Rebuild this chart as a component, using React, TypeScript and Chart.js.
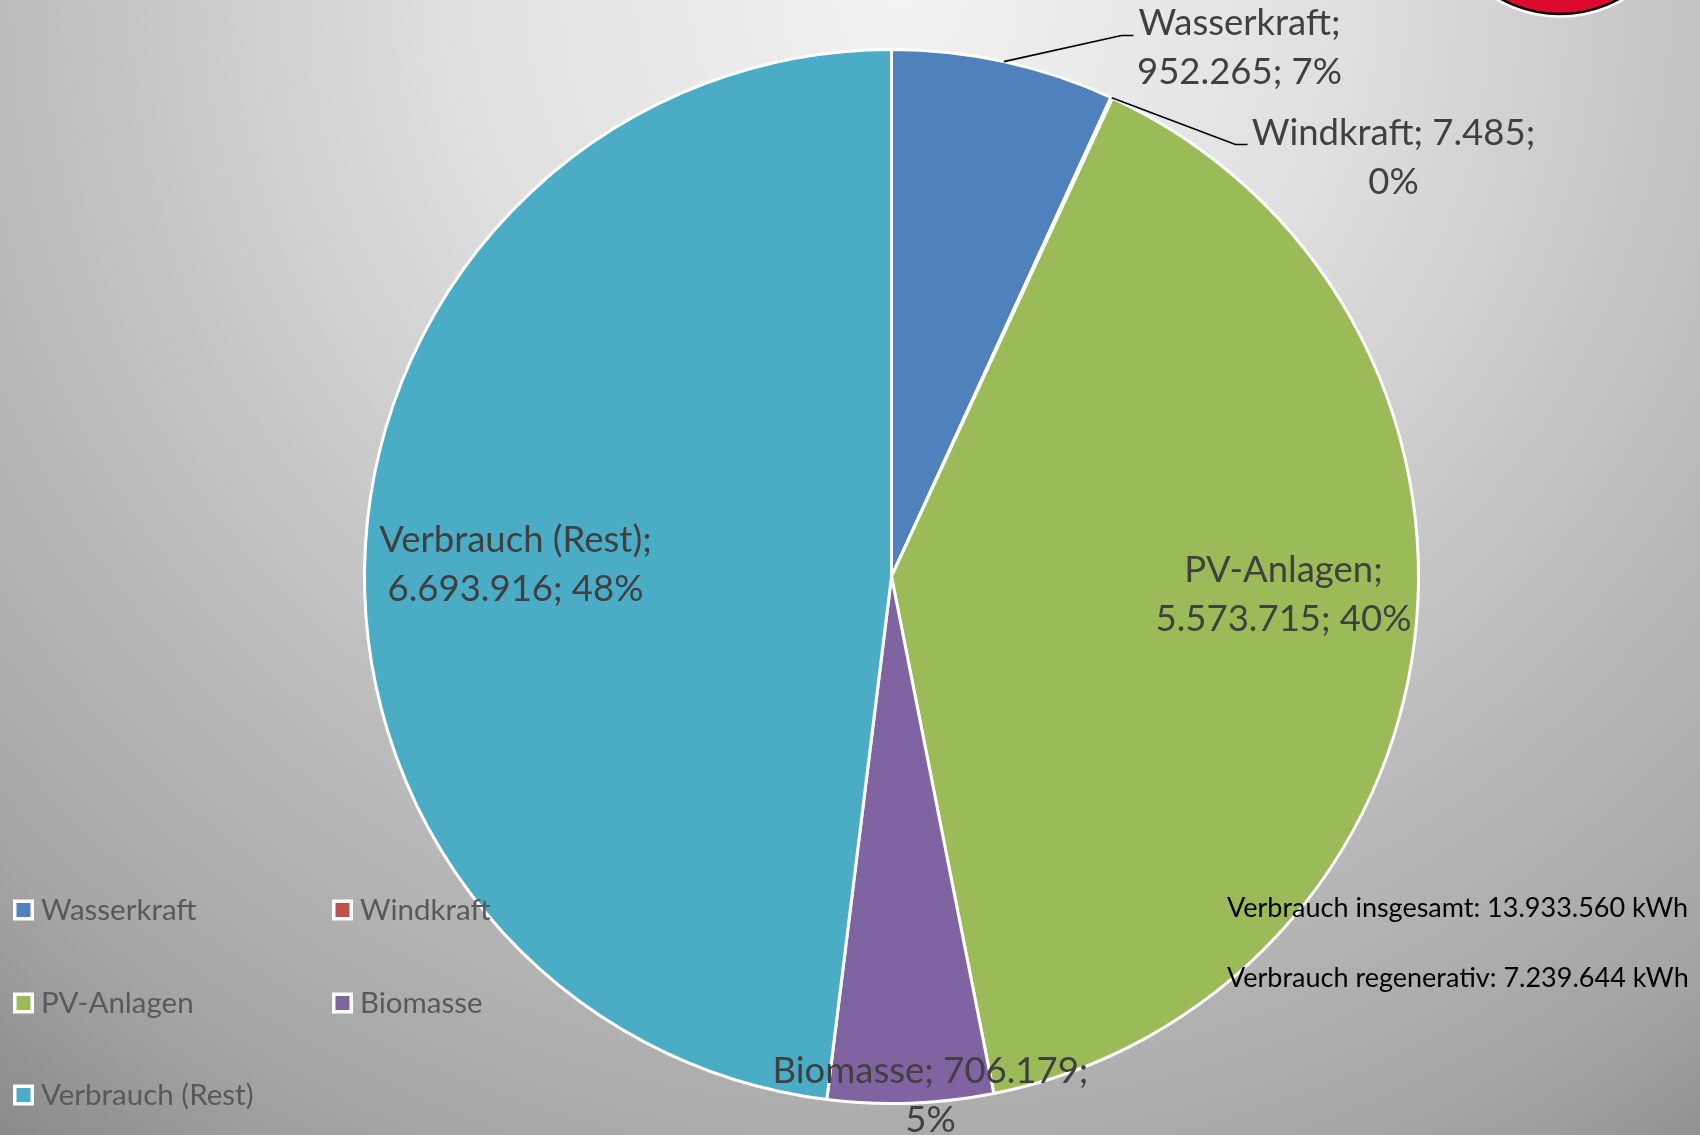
import React, { useEffect, useRef } from "react";
import { Chart, registerables } from "chart.js";

Chart.register(...registerables);

// ---- data ----
const categories = ["Wasserkraft", "Windkraft", "PV-Anlagen", "Biomasse", "Verbrauch (Rest)"];
const values = [952265, 7485, 5573715, 706179, 6693916];
const colors = ["#4f81bd", "#c0504d", "#9bbb59", "#8064a2", "#4bacc6"];
const regenerativeCount = 4; // first four categories are renewable
const infoPrefixes = ["Verbrauch insgesamt: ", "Verbrauch regenerativ: "];
const unit = " kWh";

// ---- label layout (offsets relative to pie centre, px) ----
// breakAfter: number of "; "-separated parts on the first line
const labelBreak = [1, 2, 1, 2, 1];
const labelDX = [348, 502, 392, 39, -376];
const labelDY = [-542, -432, 5, 506, -25];
const leaderKinks: (number[] | null)[] = [[230, -541, 242], [344, -432, 356], null, null, null];

const FONT = "Lato, 'Open Sans', sans-serif";

function fmt(n: number): string {
  return String(n).replace(/\B(?=(\d{3})+(?!\d))/g, ".");
}

const customPlugin = {
  id: "custom",
  beforeDraw(chart: any) {
    const { ctx, width, height } = chart;
    ctx.save();
    const g = ctx.createRadialGradient(900, 0, 0, 900, 0, 1450);
    g.addColorStop(0, "#f2f2f2");
    g.addColorStop(0.3, "#e0e0e0");
    g.addColorStop(0.586, "#bfbfbf");
    g.addColorStop(0.86, "#a4a4a4");
    g.addColorStop(1, "#8a8a8a");
    ctx.fillStyle = g;
    ctx.fillRect(0, 0, width, height);
    // red logo (partially visible, top right)
    ctx.beginPath();
    ctx.arc(1560, -109, 127, 0, Math.PI * 2);
    ctx.fillStyle = "rgba(255,255,255,0.9)";
    ctx.fill();
    ctx.beginPath();
    ctx.arc(1560, -109, 123, 0, Math.PI * 2);
    ctx.fillStyle = "#dc0a2d";
    ctx.fill();
    ctx.lineWidth = 2.5;
    ctx.strokeStyle = "#000";
    ctx.stroke();
    ctx.restore();
  },
  afterDraw(chart: any) {
    const { ctx } = chart;
    const meta = chart.getDatasetMeta(0);
    const ds = chart.data.datasets[0];
    const data: number[] = ds.data;
    const total = data.reduce((a, b) => a + b, 0);
    const labels: string[] = chart.data.labels;
    const a0 = meta.data[0];
    const cx = a0.x;
    const cy = a0.y;
    const r = a0.outerRadius;

    ctx.save();
    // leader lines
    ctx.strokeStyle = "#000";
    ctx.lineWidth = 1.6;
    meta.data.forEach((arc: any, i: number) => {
      const k = leaderKinks[i];
      if (!k) return;
      const mid = (arc.startAngle + arc.endAngle) / 2;
      const sx = cx + Math.cos(mid) * r;
      const sy = cy + Math.sin(mid) * r;
      ctx.beginPath();
      ctx.moveTo(sx, sy);
      ctx.lineTo(cx + k[0], cy + k[1]);
      ctx.lineTo(cx + k[2], cy + k[1]);
      ctx.stroke();
    });

    // data labels
    ctx.fillStyle = "#404040";
    ctx.font = `36.5px ${FONT}`;
    ctx.textAlign = "center";
    ctx.textBaseline = "alphabetic";
    data.forEach((v, i) => {
      const pct = Math.round((v / total) * 100) + "%";
      const parts = [labels[i], fmt(v), pct];
      const b = labelBreak[i];
      const l1 = parts.slice(0, b).join("; ") + ";";
      const l2 = parts.slice(b).join("; ");
      const x = cx + labelDX[i];
      const y = cy + labelDY[i];
      ctx.fillText(l1, x, y);
      ctx.fillText(l2, x, y + 49);
    });

    // legend
    const colX = [13, 332];
    const rowY = [910, 1003, 1095];
    ctx.font = `29.5px ${FONT}`;
    ctx.textAlign = "left";
    labels.forEach((lab, i) => {
      const x = colX[i % 2];
      const yc = rowY[Math.floor(i / 2)];
      ctx.fillStyle = "#ffffff";
      ctx.fillRect(x, yc - 10.5, 21, 21);
      ctx.fillStyle = ds.backgroundColor[i];
      ctx.fillRect(x + 3.5, yc - 7, 14, 14);
      ctx.fillStyle = "#595959";
      ctx.fillText(lab, x + 28, yc + 10);
    });

    // info text
    const regen = data.slice(0, regenerativeCount).reduce((a, b) => a + b, 0);
    const infoVals = [total, regen];
    ctx.fillStyle = "#000";
    ctx.font = `27px ${FONT}`;
    infoPrefixes.forEach((p, i) => {
      ctx.fillText(p + fmt(infoVals[i]) + unit, 1227, 917 + i * 70);
    });
    ctx.restore();
  },
};

export default function App() {
  const ref = useRef<HTMLCanvasElement | null>(null);
  useEffect(() => {
    if (!ref.current) return;
    const chart = new Chart(ref.current, {
      type: "pie",
      data: {
        labels: categories,
        datasets: [
          {
            data: values,
            backgroundColor: colors,
            borderColor: "#ffffff",
            borderWidth: 3,
          },
        ],
      },
      options: {
        responsive: false,
        animation: false,
        layout: { padding: { top: 48, bottom: 30, left: 363, right: 280 } },
        plugins: { legend: { display: false }, tooltip: { enabled: false } },
      },
      plugins: [customPlugin],
    });
    return () => chart.destroy();
  }, []);
  return (
    <div style={{ position: "fixed", left: 0, top: 0, width: 1700, height: 1135 }}>
      <canvas ref={ref} width={1700} height={1135} style={{ width: 1700, height: 1135, display: "block" }} />
    </div>
  );
}
